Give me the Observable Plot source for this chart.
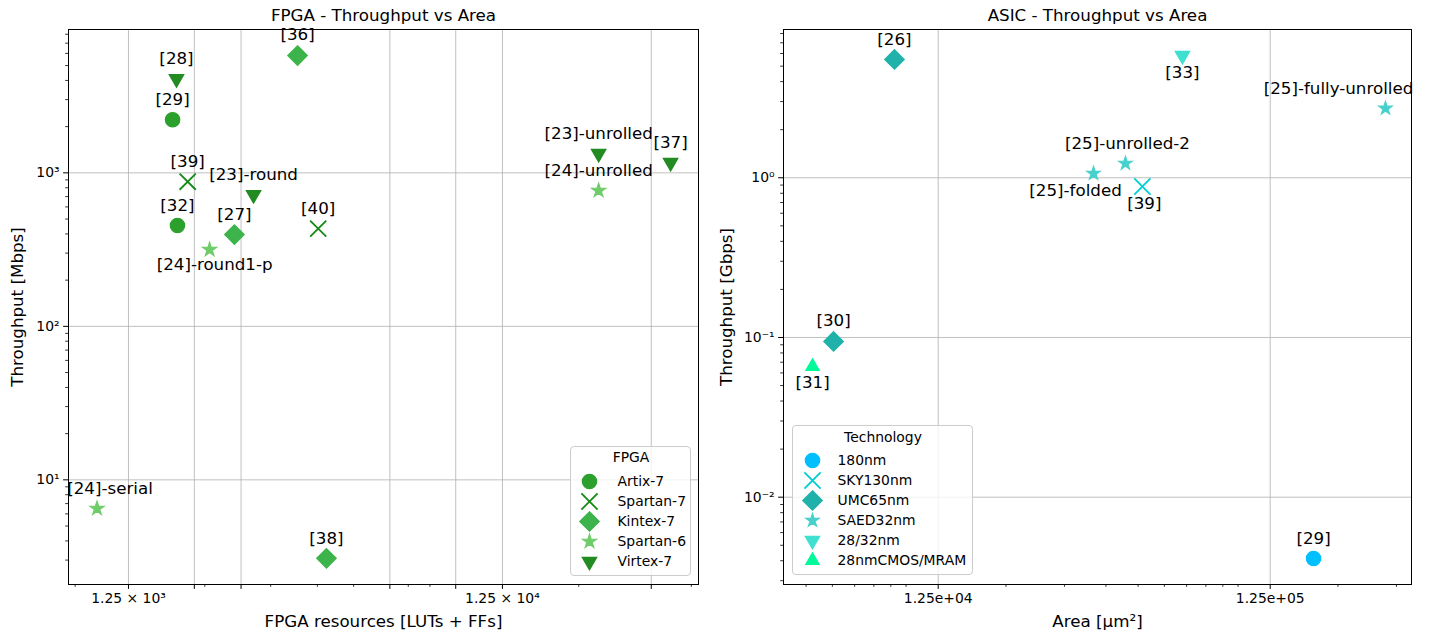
<!DOCTYPE html>
<html><head><meta charset="utf-8">
<script src="https://cdn.jsdelivr.net/npm/d3@7"></script>
<script src="https://cdn.jsdelivr.net/npm/@observablehq/plot@0.6"></script>
<style>
body{margin:0;background:#fff;font-family:"DejaVu Sans",sans-serif;}
#wrap{position:relative;width:1443px;height:639px;overflow:hidden;background:#fff}
.panel{position:absolute;top:0}
.legend{position:absolute;background:rgba(255,255,255,0.8);border:1px solid #cccccc;border-radius:4px;box-sizing:border-box}
.legend svg{position:absolute;left:0;top:0}
</style>
</head><body><div id="wrap"></div>
<script>
// ---------- FPGA data ----------
const fpgaRefs = ["[28]","[29]","[39]","[32]","[27]","[24]-round1-p","[23]-round","[36]","[40]","[38]","[24]-serial","[23]-unrolled","[24]-unrolled","[37]"];
const fpgaFamilies = ["Virtex-7","Artix-7","Spartan-7","Artix-7","Kintex-7","Spartan-6","Virtex-7","Kintex-7","Spartan-7","Kintex-7","Spartan-6","Virtex-7","Spartan-6","Virtex-7"];
const fpgaResources = [1680,1640,1800,1690,2400,2060,2700,3540,4020,4230,1030,22600,22600,35200];
const fpgaThroughput = [4100,2220,876,454,396,316,720,5810,433,3.08,6.5,1335,767,1167];
const fpgaFamilyNames = ["Artix-7","Spartan-7","Kintex-7","Spartan-6","Virtex-7"];
const fpgaLabeledTicksX = [1250,12500];
const fpgaGridTicksX = [1250,1875,2500,6250,9375,12500,31250];
const fpgaMinorTicksX = [900,2000,3000,4000,5000,7000,8000,20000,40000];
const fpgaTicksY = [10,100,1000];

// ---------- ASIC data ----------
const asicRefs = ["[26]","[33]","[25]-fully-unrolled","[25]-unrolled-2","[25]-folded","[39]","[30]","[31]","[29]"];
const asicTech = ["UMC65nm","28/32nm","SAED32nm","SAED32nm","SAED32nm","SKY130nm","UMC65nm","28nmCMOS/MRAM","180nm"];
const asicArea = [9230,68000,278000,45800,36700,51500,6050,5230,168800];
const asicThroughput = [5.51,5.82,2.72,1.23,1.064,0.882,0.0944,0.0658,0.00413];
const asicTechNames = ["180nm","SKY130nm","UMC65nm","SAED32nm","28/32nm","28nmCMOS/MRAM"];
const asicTicksX = [12500,125000];
const asicMinorTicksX = [5000,6000,7000,8000,9000,10000,20000,30000,40000,50000,60000,70000,80000,90000,100000,200000,300000];
const asicTicksY = [0.01,0.1,1];

// ---------- styles (kept separate from data) ----------
const triangleDown = {draw(ctx, size){const y=Math.sqrt(size/(Math.sqrt(3)*3));ctx.moveTo(0,2*y);ctx.lineTo(-Math.sqrt(3)*y,-y);ctx.lineTo(Math.sqrt(3)*y,-y);ctx.closePath();}};
const fpgaSymbols = ["circle","times","diamond2","star","triangle"];
const fpgaSymbolObjs = ["circle","times","diamond2","star",triangleDown];
const fpgaColors = ["#2ca02c","#138a13","#3cb44b","#6fcc6a","#228b22"];
const fpgaSizes = [7.2,7.4,8.8,4.4,5.4];
const asicSymbols = ["circle","times","diamond2","star","triangle-down","triangle"];
const asicSymbolObjs = ["circle","times","diamond2","star",triangleDown,"triangle"];
const asicColors = ["#00bfff","#00ced1","#20b2aa","#48d1cc","#40e0d0","#00fa9a"];
const asicSizes = [7.2,7.4,8.8,4.2,5.4,5.0];
const fpgaLabelOffsets = {"[24]-round1-p":[5,15],"[24]-serial":[13,-20],"[36]":[0,-21]};
const asicLabelOffsets = {"[33]":[0,17],"[25]-fully-unrolled":[-47,-20],"[25]-unrolled-2":[2,-20],"[25]-folded":[-18,17],"[39]":[2,17],"[31]":[0,16],"[30]":[0,-21]};

const FONT = "DejaVu Sans";
const TICK_FS = 13.9, LABEL_FS = 16.7;
const sup = {"0":"⁰","1":"¹","2":"²","3":"³","4":"⁴","5":"⁵","-":"⁻"};
const supStr = n => String(n).split("").map(c => sup[c]).join("");
const powFmt = d => "10" + supStr(Math.round(Math.log10(d)));
const minorLog = (lo, hi) => { const out=[]; for (let e=Math.floor(Math.log10(lo)); e<=Math.ceil(Math.log10(hi)); e++) for (let m=2;m<=9;m++){const v=m*Math.pow(10,e); if(v>lo&&v<hi) out.push(+v.toPrecision(6));} return out; };

const gridStyle = {stroke:"#b0b0b0", strokeOpacity:1, strokeWidth:0.8};

function panel(cfg){
  const data = cfg.refs.map((ref,i)=>({ref, cat: cfg.cats[i], x: cfg.xs[i], y: cfg.ys[i]}));
  const marks = [
    Plot.gridX(cfg.gridX, gridStyle),
    Plot.gridY(cfg.ticksY, gridStyle),
    Plot.frame({stroke:"black", strokeWidth:1}),
    Plot.axisX(cfg.gridX, {tickSize:4.9, tickPadding:4, strokeWidth:1, label:null, fontSize:TICK_FS, fill:"black", tickFormat: d => cfg.labeledX.includes(d) ? cfg.fmtX(d) : ""}),
    Plot.axisX(cfg.minorX, {tickSize:2.8, strokeWidth:0.8, label:null, tickFormat: () => ""}),
    Plot.axisY(cfg.ticksY, {tickSize:4.9, tickPadding:4, strokeWidth:1, label:null, fontSize:TICK_FS, fill:"black", tickFormat: powFmt}),
    Plot.axisY(cfg.minorY, {tickSize:2.8, strokeWidth:0.8, label:null, tickFormat: () => ""}),
    ...cfg.names.map((n,k) => Plot.dot(data, {filter: d => d.cat === n, x:"x", y:"y", symbol:"cat", fill:"cat", stroke:"cat",
        r: cfg.sizes[k], strokeWidth: cfg.symbolNames[k]==="times" ? 1.8 : 1.2})),
    ...data.map(d => { const o = cfg.offsets[d.ref] || [0,-20];
        return Plot.text([d], {x:"x", y:"y", text:"ref", dx:o[0], dy:o[1], fontSize:LABEL_FS, lineAnchor:"middle", fill:"black"}); }),
    Plot.text([cfg.title], {frameAnchor:"top", dy:-14, lineAnchor:"middle", text:d=>d, fontSize:LABEL_FS, fill:"black"}),
    Plot.text([cfg.xlabel], {frameAnchor:"bottom", dy:37, lineAnchor:"middle", text:d=>d, fontSize:LABEL_FS, fill:"black"}),
    Plot.text([cfg.ylabel], {frameAnchor:"left", dx:cfg.ylabelDx, lineAnchor:"middle", textAnchor:"middle", rotate:-90, text:d=>d, fontSize:LABEL_FS, fill:"black"})
  ];
  return Plot.plot({
    width: cfg.width, height: 639,
    marginLeft: cfg.ml, marginRight: cfg.mr, marginTop: 29, marginBottom: 55,
    style: {fontFamily: FONT, fontSize: TICK_FS + "px", color: "black", background: "white", overflow: "visible"},
    x: {type:"log", domain: cfg.domainX, label: null},
    y: {type:"log", domain: cfg.domainY, label: null},
    symbol: {domain: cfg.names, range: cfg.symbolObjs},
    color: {domain: cfg.names, range: cfg.colors},
    marks
  });
}

function legend(cfg){
  return Plot.plot({
    width: cfg.w - 2, height: cfg.h - 2, margin: 0,
    style: {fontFamily: FONT, fontSize: TICK_FS + "px", color: "black", background: "transparent", overflow: "visible"},
    y: {type:"point", domain: cfg.names, range: cfg.yRange, padding: 0, axis: null},
    symbol: {domain: cfg.names, range: cfg.symbolObjs},
    color: {domain: cfg.names, range: cfg.colors},
    marks: [
      Plot.text([cfg.title], {frameAnchor:"top", dy: cfg.titleY, lineAnchor:"middle", text:d=>d, fontSize:TICK_FS, fill:"black"}),
      ...cfg.names.map((n,k) => Plot.dot([n], {y:d=>d, frameAnchor:"left", dx: cfg.markerX, symbol:d=>d, fill:d=>d, stroke:d=>d,
          r: cfg.sizes[k], strokeWidth: cfg.symbolNames[k]==="times" ? 1.8 : 1.2})),
      Plot.text(cfg.names, {y:d=>d, frameAnchor:"left", dx: cfg.textX, text:d=>d, textAnchor:"start", lineAnchor:"middle", fontSize:TICK_FS, fill:"black"})
    ]
  });
}

const wrap = document.getElementById("wrap");
function place(el, left, top){ el.classList.add("panel"); el.style.left = left+"px"; el.style.top = top+"px"; wrap.appendChild(el); }

const left = panel({
  refs: fpgaRefs, cats: fpgaFamilies, xs: fpgaResources, ys: fpgaThroughput,
  names: fpgaFamilyNames, symbolNames: fpgaSymbols, symbolObjs: fpgaSymbolObjs, colors: fpgaColors, sizes: fpgaSizes,
  offsets: fpgaLabelOffsets,
  width: 720, ml: 68, mr: 22,
  domainX: [864, 41800], domainY: [2.08, 8590],
  gridX: fpgaGridTicksX, labeledX: fpgaLabeledTicksX, minorX: fpgaMinorTicksX,
  ticksY: fpgaTicksY, minorY: minorLog(2.08, 8590),
  fmtX: d => "1.25 × 10" + supStr(Math.round(Math.log10(d/1.25))),
  title: "FPGA - Throughput vs Area", xlabel: "FPGA resources [LUTs + FFs]", ylabel: "Throughput [Mbps]", ylabelDx: -51
});
place(left, 0, 0);

const right = panel({
  refs: asicRefs, cats: asicTech, xs: asicArea, ys: asicThroughput,
  names: asicTechNames, symbolNames: asicSymbols, symbolObjs: asicSymbolObjs, colors: asicColors, sizes: asicSizes,
  offsets: asicLabelOffsets,
  width: 723, ml: 63, mr: 32,
  domainX: [4275, 333000], domainY: [0.00284, 8.48],
  gridX: asicTicksX, labeledX: asicTicksX, minorX: asicMinorTicksX,
  ticksY: asicTicksY, minorY: minorLog(0.00284, 8.48),
  fmtX: d => d3.format(".2e")(d).replace(/e\+(\d)$/, "e+0$1"),
  title: "ASIC - Throughput vs Area", xlabel: "Area [μm²]", ylabel: "Throughput [Gbps]", ylabelDx: -57
});
place(right, 720, 0);

function placeLegend(svg, l, t, w, h){
  const box = document.createElement("div");
  box.className = "legend";
  box.style.left = l+"px"; box.style.top = t+"px"; box.style.width = w+"px"; box.style.height = h+"px";
  box.appendChild(svg);
  wrap.appendChild(box);
}
placeLegend(legend({names: fpgaFamilyNames, symbolNames: fpgaSymbols, symbolObjs: fpgaSymbolObjs, colors: fpgaColors, sizes: fpgaSizes,
  title: "FPGA", w: 121, h: 130, titleY: 10, yRange: [32, 115], markerX: 18, textX: 46}), 570, 446, 121, 130);
placeLegend(legend({names: asicTechNames, symbolNames: asicSymbols, symbolObjs: asicSymbolObjs, colors: asicColors, sizes: asicSizes,
  title: "Technology", w: 181, h: 150, titleY: 11, yRange: [32, 136], markerX: 19, textX: 44}), 792, 425, 181, 150);
</script>
</body></html>
